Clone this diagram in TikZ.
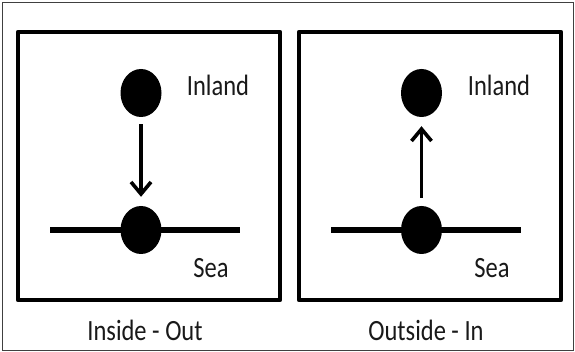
\documentclass[tikz,border=0pt]{standalone}
\usepackage{fontspec}
\setmainfont{Carlito}
\usetikzlibrary{shapes.geometric,arrows.meta}
\newcommand\vst[1]{\scalebox{1}[1.2]{#1}}
\tikzset{
  frame/.style={draw=black!75,line width=1pt},
  panel/.style={draw=black,line width=4.3pt,line join=round},
  dot/.style={ellipse,fill=black,minimum width=41pt,minimum height=48pt,inner sep=0pt},
  shore/.style={draw=black,line width=6pt},
  flow/.style={draw=black,line width=3.6pt,-{Straight Barb[length=12pt,width=20pt]}},
  lbl/.style={font=\fontsize{24.5}{29}\selectfont,inner sep=0pt,text=black!90}
}
\begin{document}
\begin{tikzpicture}[x=1pt,y=-1pt]
\useasboundingbox (0,0) rectangle (575,352);
\fill[white] (0,0) rectangle (575,352);
\draw[frame] (2.5,2.5) rectangle (573,350);
% left panel
\draw[panel] (18,32) rectangle (280,300);
\coordinate (l1) at (50,230);
\coordinate (l2) at (240,230);
\draw[shore] (l1) -- (l2);
\node[dot] (ltop) at (141,93) {};
\node[dot] (lbot) at (141,230) {};
\draw[flow, shorten <=7pt, shorten >=9pt] (ltop) -- (lbot);
\node[lbl] (linland) at (218,85) {\vst{Inland}};
\node[lbl] (lsea) at (211,268) {\vst{Sea}};
\node[lbl] (lcap) at (145,330) {\vst{Inside - Out}};
% right panel
\draw[panel] (299,32) rectangle (561,300);
\coordinate (r1) at (331,230);
\coordinate (r2) at (521,230);
\draw[shore] (r1) -- (r2);
\node[dot] (rtop) at (421.5,93) {};
\node[dot] (rbot) at (421.5,230) {};
\draw[flow, shorten <=8pt, shorten >=9pt] (rbot) -- (rtop);
\node[lbl] (rinland) at (499,85) {\vst{Inland}};
\node[lbl] (rsea) at (492,268) {\vst{Sea}};
\node[lbl] (rcap) at (426,330) {\vst{Outside - In}};
\end{tikzpicture}
\end{document}
